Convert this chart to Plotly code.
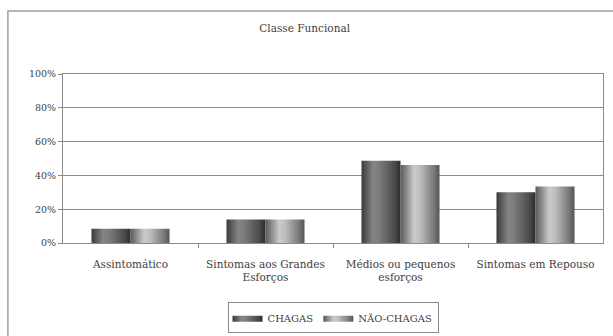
import plotly.graph_objects as go

# Functional class distribution by group
categories = [
    "Assintomático",
    "Sintomas aos Grandes<br>Esforços",
    "Médios ou pequenos<br>esforços",
    "Sintomas em Repouso",
]
series_names = ["CHAGAS", "NÃO-CHAGAS"]
chagas = [0.084, 0.139, 0.487, 0.300]
nao_chagas = [0.084, 0.139, 0.461, 0.334]
y_ticks = [0, 0.2, 0.4, 0.6, 0.8, 1.0]

values = [chagas, nao_chagas]

# Horizontal shading that gives each bar a cylindrical look
gradients = [
    [[0, "#3a3a3a"], [0.3, "#858585"], [0.45, "#7c7c7c"], [0.85, "#4a4a4a"], [1, "#2c2c2c"]],
    [[0, "#5a5a5a"], [0.35, "#cacaca"], [0.5, "#bebebe"], [0.85, "#7a7a7a"], [1, "#555555"]],
]
legend_colors = ["#555555", "#9a9a9a"]

group_width = 0.578
bar_w = group_width / len(series_names)

fig = go.Figure()
for s, name in enumerate(series_names):
    for i, v in enumerate(values[s]):
        x0 = i - group_width / 2 + s * bar_w
        x1 = x0 + bar_w
        fig.add_trace(go.Scatter(
            x=[x0, x1, x1, x0, x0],
            y=[0, 0, v, v, 0],
            mode="lines",
            line=dict(width=0, color=legend_colors[s]),
            fill="toself",
            fillcolor=legend_colors[s],
            fillgradient=dict(type="horizontal", colorscale=gradients[s], start=x0, stop=x1),
            name=name,
            legendgroup=name,
            showlegend=(i == 0),
            hovertemplate=f"{name}: %{{y:.0%}}<extra></extra>",
        ))

serif = "DejaVu Serif, Liberation Serif, serif"
text_color = "#404040"

fig.update_layout(
    width=613,
    height=336,
    margin=dict(l=63, r=10, t=74, b=93, autoexpand=False),
    paper_bgcolor="white",
    plot_bgcolor="white",
    font=dict(family=serif, size=10, color=text_color),
    title=dict(text="Classe Funcional", x=0.497, xanchor="center", y=0.915, yanchor="middle",
               font=dict(family=serif, size=10.5, color=text_color)),
    xaxis=dict(
        range=[-0.5, len(categories) - 0.5],
        tickmode="array",
        tickvals=list(range(len(categories))),
        ticktext=categories,
        ticks="",
        ticklabelstandoff=11,
        showgrid=False,
        zeroline=False,
        showline=True,
        linecolor="#8a8a8a",
        linewidth=1,
        mirror=True,
        fixedrange=True,
        tickfont=dict(family=serif, size=10.5, color=text_color),
        minor=dict(tickmode="array", tickvals=[i + 0.5 for i in range(len(categories) - 1)],
                   ticks="outside", ticklen=4, tickcolor="#8a8a8a", showgrid=False),
    ),
    yaxis=dict(
        range=[0, 1],
        tickmode="array",
        tickvals=y_ticks,
        tickformat=".0%",
        ticks="outside",
        ticklen=4,
        tickcolor="#8a8a8a",
        showgrid=True,
        gridcolor="#8a8a8a",
        gridwidth=1,
        zeroline=False,
        showline=True,
        linecolor="#8a8a8a",
        linewidth=1,
        mirror=True,
        fixedrange=True,
        tickfont=dict(family=serif, size=9.5, color=text_color),
    ),
    legend=dict(
        orientation="h",
        x=0.5, xanchor="center",
        y=-0.35, yanchor="top",
        bordercolor="#8a8a8a",
        borderwidth=1,
        font=dict(family=serif, size=10, color=text_color),
        itemwidth=30,
        tracegroupgap=0,
    ),
    shapes=[
        dict(type="rect", xref="paper", yref="paper",
             x0=-0.102, y0=-0.6, x1=1.05, y1=1.373,
             line=dict(color="#a0a0a0", width=1.5), layer="below"),
    ],
)

fig.write_html("out.html")
